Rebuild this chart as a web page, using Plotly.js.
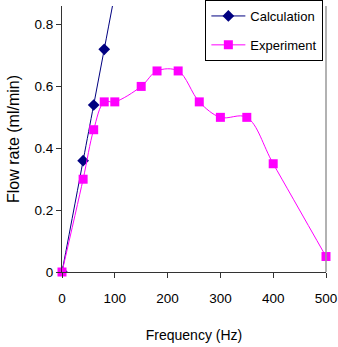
<!DOCTYPE html>
<html><head><meta charset="utf-8">
<script src="https://cdn.plot.ly/plotly-3.0.1.min.js"></script>
<style>html,body{margin:0;padding:0;background:#fff}</style>
</head><body>
<div id="chart" style="width:338px;height:347px"></div>
<script>
const calcFreq = [0, 40, 60, 80, 100];
const calcFlow = [0, 0.36, 0.54, 0.72, 0.9];
const expFreq = [0, 40, 60, 80, 100, 150, 180, 220, 260, 300, 350, 400, 500];
const expFlow = [0, 0.30, 0.46, 0.55, 0.55, 0.60, 0.65, 0.65, 0.55, 0.50, 0.50, 0.35, 0.05];
const xTicks = [0, 100, 200, 300, 400, 500];
const yTicks = [0, 0.2, 0.4, 0.6, 0.8];

const fam = 'Liberation Sans, Arial, sans-serif';
const tickFont = {family: fam, size: 13.5, color: '#000'};
const legFont = {family: fam, size: 13, color: '#000'};
const xTitleFont = {family: fam, size: 14, color: '#000'};
const yTitleFont = {family: fam, size: 16, color: '#000'};
const traces = [
  {x: calcFreq, y: calcFlow, name: 'Calculation', mode: 'lines+markers', legendgroup: 'a',
   line: {color: '#000080', width: 1, shape: 'spline'},
   marker: {symbol: 'diamond', size: 9, color: '#000080'}, cliponaxis: true},
  {x: expFreq, y: expFlow, name: 'Experiment', mode: 'lines+markers', legendgroup: 'b',
   line: {color: '#ff00ff', width: 1, shape: 'spline'},
   marker: {symbol: 'square', size: 9, color: '#ff00ff'}, cliponaxis: false}
];
const layout = {
  width: 338, height: 347,
  margin: {l: 62, r: 12, t: 0, b: 75},
  paper_bgcolor: '#fff', plot_bgcolor: '#fff',
  font: tickFont,
  showlegend: true,
  legend: {x: 0.99, y: 1, xanchor: 'right', yanchor: 'top', bordercolor: '#000', borderwidth: 1,
           bgcolor: '#fff', font: legFont, tracegroupgap: 9, itemwidth: 34},
  xaxis: {range: [0, 500], tickvals: xTicks, ticktext: xTicks.map(String), showgrid: false, zeroline: false,
          showline: true, linecolor: '#333', linewidth: 1, ticks: 'outside', ticklen: 5, tickcolor: '#333',
          ticklabelstandoff: 9, automargin: false,
          title: {text: 'Frequency (Hz)', font: xTitleFont, standoff: 24}, tickfont: tickFont},
  yaxis: {range: [0, 0.86], domain: [0, 1 - 6 / 272], tickvals: yTicks, ticktext: ['0', '0.2', '0.4', '0.6', '0.8'],
          showgrid: false, zeroline: false,
          showline: true, linecolor: '#333', linewidth: 1, ticks: 'outside', ticklen: 5, tickcolor: '#333',
          automargin: false,
          title: {text: 'Flow rate (ml/min)', font: yTitleFont, standoff: 10}, tickfont: tickFont},
  shapes: [{type: 'line', xref: 'paper', yref: 'y domain', x0: 1, x1: 1, y0: 0, y1: 1,
            line: {color: '#999', width: 1.5}}]
};
Plotly.newPlot('chart', traces, layout, {displayModeBar: false, staticPlot: true});
</script>
</body></html>
